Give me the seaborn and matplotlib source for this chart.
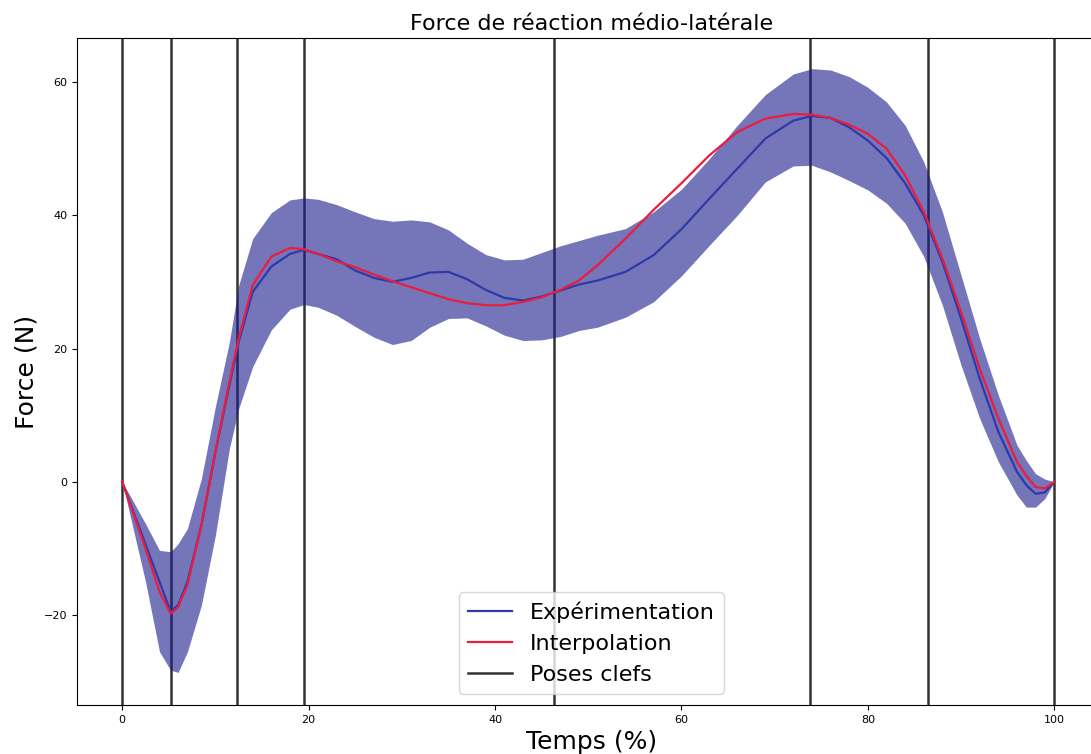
import numpy as np
import matplotlib
matplotlib.use("Agg")
import matplotlib.pyplot as plt
import seaborn as sns

# temps normalise (%)
temps = [0, 1, 2.5, 4, 5.2, 6, 7, 8.5, 10, 11.5, 12.5, 14, 16, 18, 19.5, 21, 23, 25, 27, 29,
         31, 33, 35, 37, 39, 41, 43, 45, 47, 49, 51, 54, 57, 60, 63, 66, 69, 72, 74, 76,
         78, 80, 82, 84, 86, 88, 90, 92, 94, 96, 97, 98, 99, 100]

# moyenne experimentale (N)
experimentation = [0, -3.8, -9.4, -15, -19.5, -18.5, -15, -6.5, 4.5, 14.5, 21, 28.5, 32.3, 34.2, 34.8,
                   34.2, 33.4, 31.7, 30.6, 30.0, 30.6, 31.4, 31.5, 30.4, 28.8, 27.6, 27.2, 27.8,
                   28.7, 29.6, 30.2, 31.5, 34.0, 37.9, 42.5, 47.0, 51.5, 54.2, 54.9, 54.6, 53.2,
                   51.2, 48.6, 44.8, 40.0, 33.0, 24.5, 15.5, 7.5, 1.5, -0.5, -1.8, -1.6, 0]

# courbe interpolee (N)
interpolation = [0, -4, -10, -16.5, -19.8, -18.8, -15.5, -6.5, 4.5, 15, 21.5, 29.5, 33.8, 35.1, 34.9,
                 34.2, 33.1, 32.2, 31.1, 30.1, 29.2, 28.3, 27.4, 26.8, 26.5, 26.5, 27.0, 27.7,
                 28.8, 30.2, 32.5, 36.5, 40.8, 44.8, 49.0, 52.5, 54.5, 55.2, 55.1, 54.6, 53.6,
                 52.2, 50.0, 46.0, 40.5, 33.5, 25.5, 17, 9.5, 3.0, 0.9, -0.8, -1.0, 0]

# bornes de l'ecart type
borne_haute = [0, -2.5, -6.3, -10.3, -10.5, -9.3, -7, 0.5, 11.3, 21, 29.5, 36.5, 40.4, 42.3, 42.6,
               42.4, 41.6, 40.5, 39.5, 39.1, 39.3, 39.0, 37.8, 35.8, 34.1, 33.3, 33.4, 34.4,
               35.4, 36.2, 37.0, 38.0, 40.5, 43.9, 48.5, 53.5, 58.1, 61.2, 62.0, 61.8, 60.8,
               59.2, 57.0, 53.5, 48.0, 40.5, 31.0, 21.5, 13.0, 5.5, 3.2, 1.2, 0.4, 0]
borne_basse = [0, -6, -15, -25.5, -28.3, -28.6, -25.5, -18.5, -8, 5, 11, 17.3, 22.8, 25.9, 26.6,
               26.2, 25.0, 23.3, 21.7, 20.6, 21.2, 23.2, 24.5, 24.6, 23.4, 22.0, 21.2, 21.3,
               21.8, 22.7, 23.2, 24.7, 27.0, 30.9, 35.5, 40.0, 45.0, 47.4, 47.5, 46.5, 45.2,
               43.8, 41.8, 38.8, 33.8, 26.5, 17.5, 9.5, 3.0, -2.0, -3.8, -3.8, -2.5, 0]

# poses clefs (%)
poses_clefs = [0, 5.26, 12.34, 19.53, 46.35, 73.8, 86.5, 100]

fig = plt.figure(figsize=(10.91, 7.54), dpi=100)
# l'axe depasse a droite : le bord droit est coupe comme dans l'original
ax = fig.add_axes([0.0706, 0.065, 0.9427, 0.8846])

for i, p in enumerate(poses_clefs):
    ax.axvline(p, color="#333333", lw=1.8, label="Poses clefs" if i == 0 else None, zorder=1)

ax.fill_between(temps, borne_basse, borne_haute, color="#1a1a8c", alpha=0.6, lw=0, zorder=2)

sns.lineplot(x=temps, y=experimentation, color="#2f3aa8", lw=1.6, label="Expérimentation", ax=ax, zorder=3)
sns.lineplot(x=temps, y=interpolation, color="#ec1c3c", lw=1.6, label="Interpolation", ax=ax, zorder=4)

ax.set_xlim(-4.85, 105.5)
ax.set_ylim(-33.5, 66.6)
ax.set_xticks([0, 20, 40, 60, 80, 100])
ax.set_yticks([-20, 0, 20, 40, 60])
ax.tick_params(labelsize=8)

ax.set_title("Force de réaction médio-latérale", fontsize=16)
ax.set_xlabel("Temps (%)", fontsize=18)
ax.set_ylabel("Force (N)", fontsize=18)

handles, labels = ax.get_legend_handles_labels()
ordre = [labels.index(l) for l in ["Expérimentation", "Interpolation", "Poses clefs"]]
ax.legend([handles[i] for i in ordre], [labels[i] for i in ordre], loc="lower center", fontsize=16)

fig.savefig("out.png", dpi=100)
